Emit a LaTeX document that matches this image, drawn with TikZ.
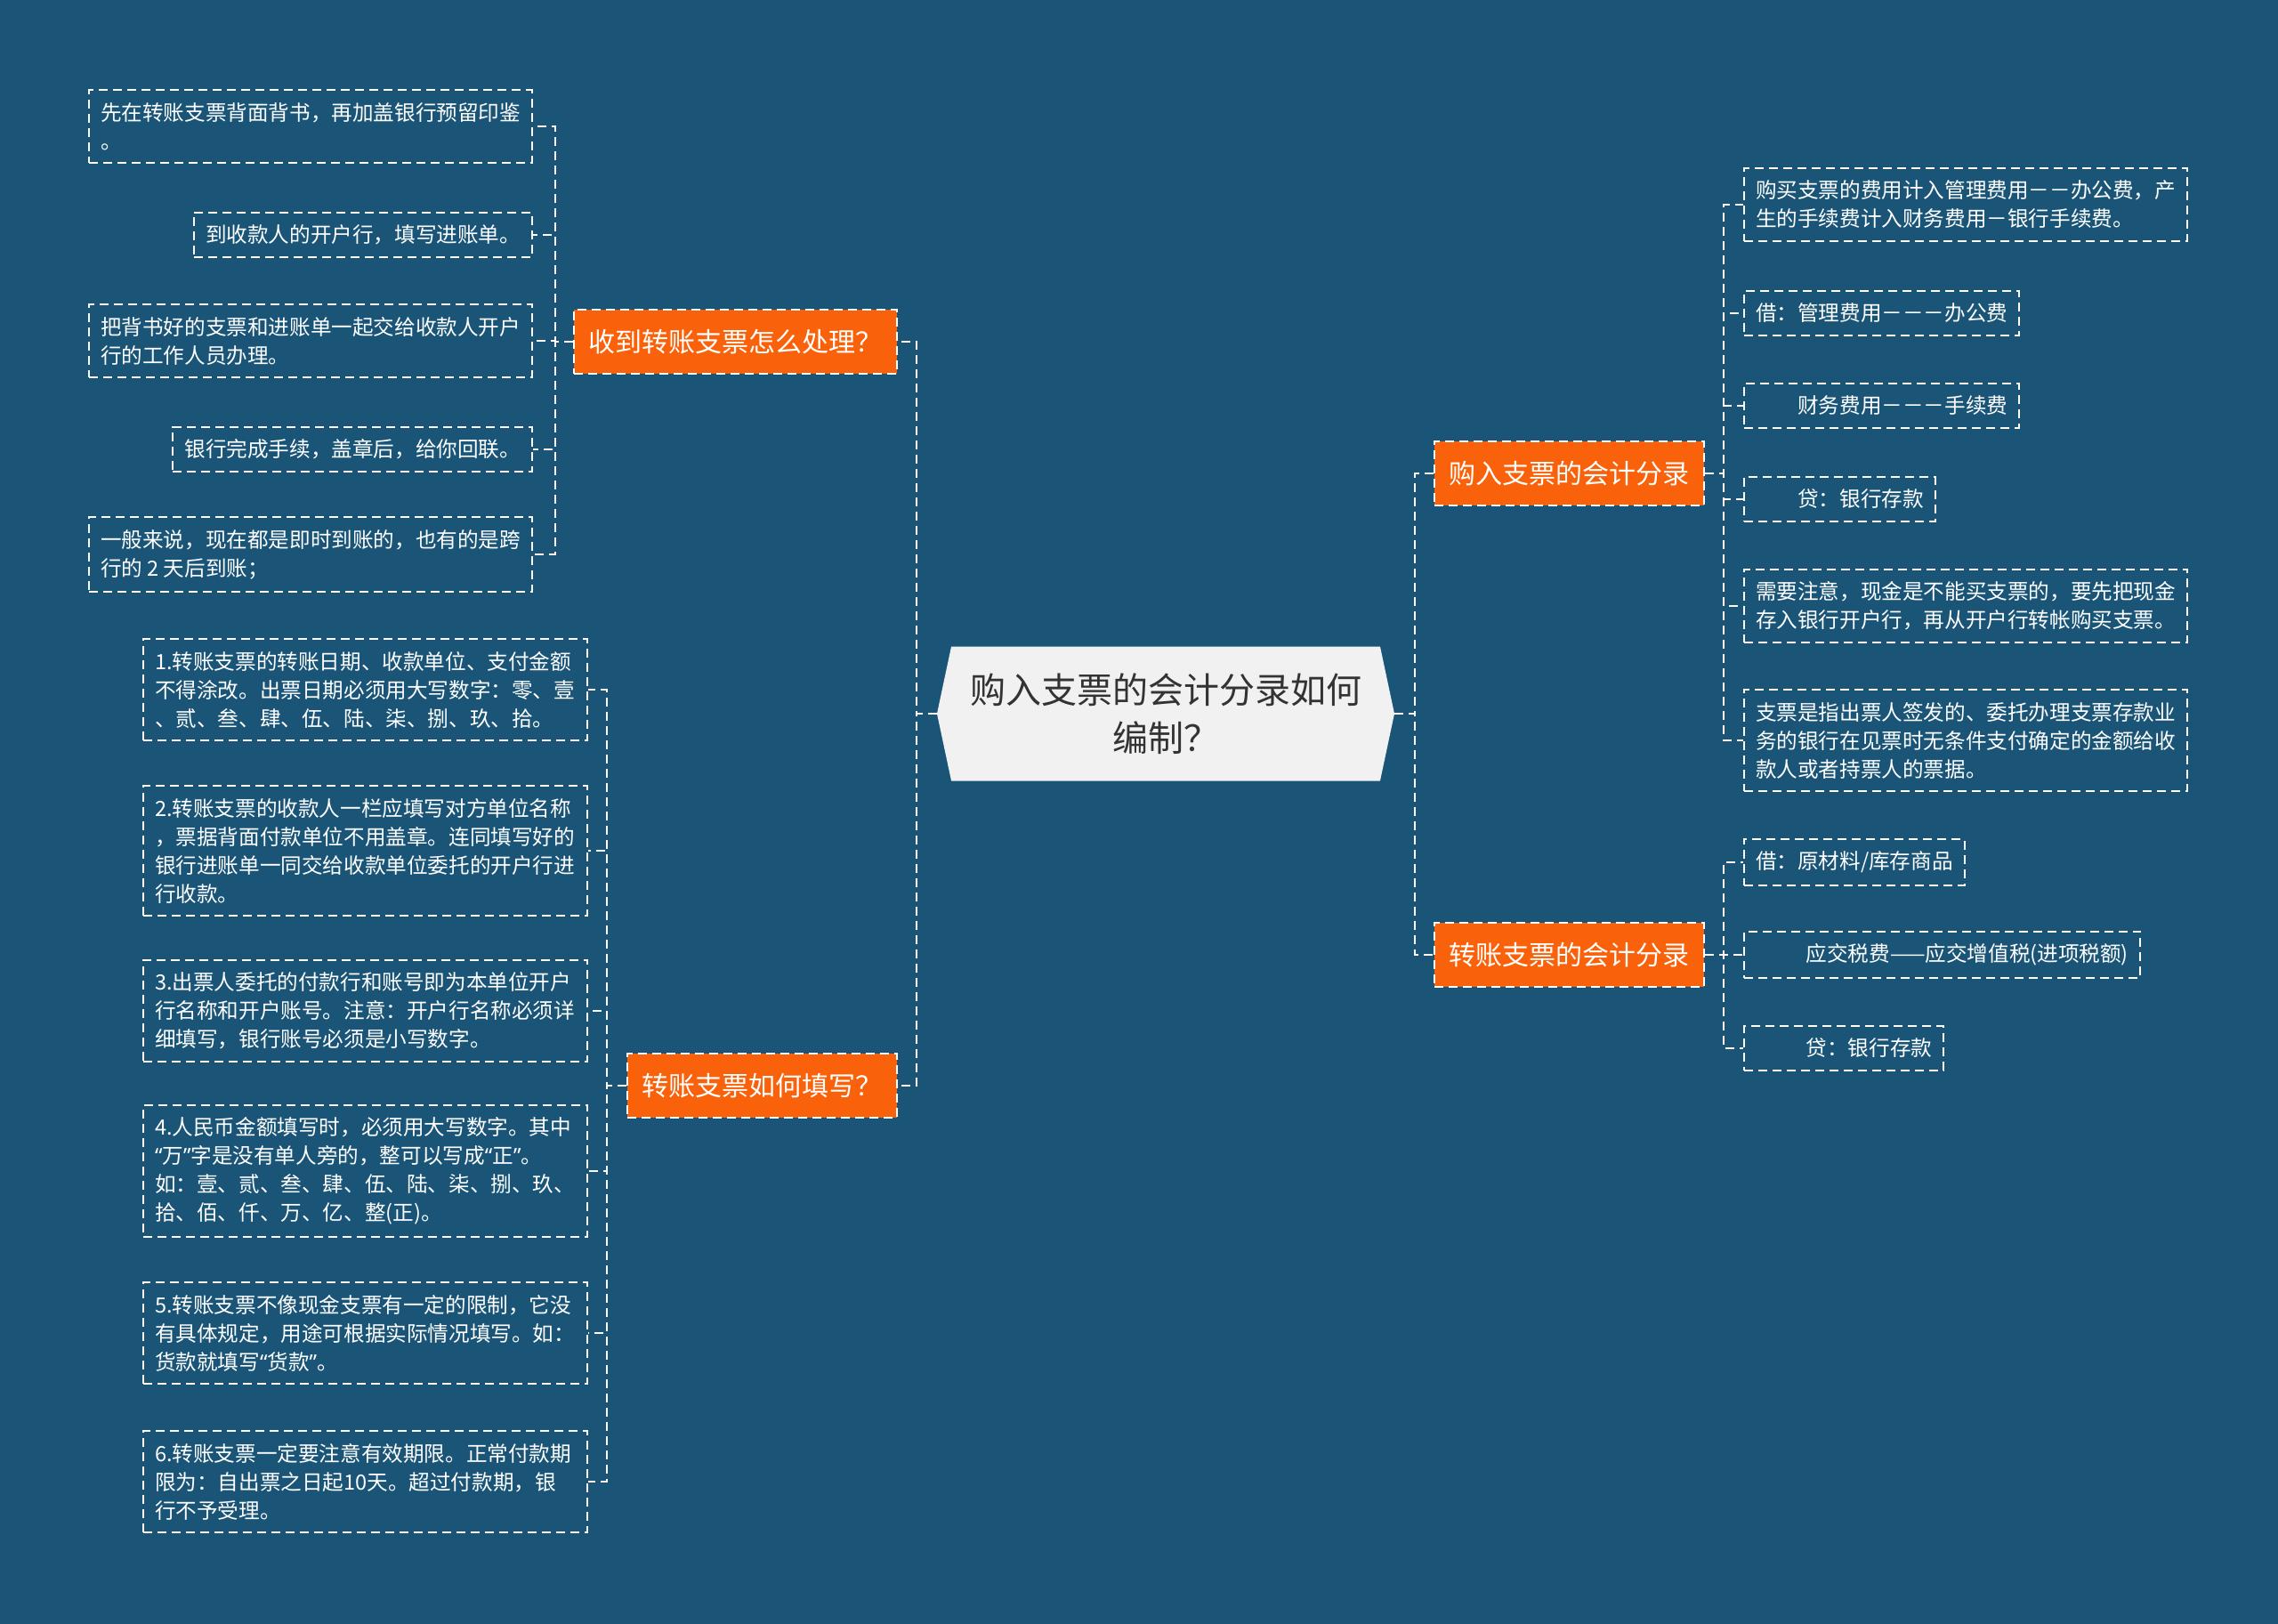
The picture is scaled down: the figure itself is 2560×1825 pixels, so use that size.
\documentclass[tikz,border=0pt]{standalone}
\usepackage{fontspec}
\setmainfont{Noto Sans CJK SC}
\newfontfamily\westfont{Noto Sans}
\usepackage{tikz}
\usetikzlibrary{shapes.symbols}
\usepackage{xcolor}
\definecolor{bgblue}{RGB}{26,85,120}
\definecolor{topicorange}{RGB}{249,98,10}
\definecolor{rootgray}{RGB}{241,241,241}
\definecolor{rootink}{RGB}{51,51,51}
\newcommand{\oq}{{\westfont “}}
\newcommand{\cq}{{\westfont ”}}
\tikzset{
  root/.style={
    signal, 
    signal to=west and east, 
    signal pointer angle=156,
    minimum width=257pt, 
    minimum height=75.5pt, 
    inner sep=0pt,
    align=center, 
    fill=rootgray, 
    text=rootink,
    font=\fontsize{20pt}{27pt}\selectfont
    },
  branch/.style={
    rectangle, 
    minimum height=36pt, 
    inner xsep=8.25pt,
    draw=white, 
    line width=1pt,
    dash pattern=on 5pt off 3pt,
    fill=topicorange, 
    text=white,
    font=\fontsize{15pt}{18pt}\selectfont
    },
  leaf/.style={
    rectangle, 
    inner xsep=6.5pt, 
    inner ysep=7pt,
    align=left, 
    draw=white, 
    line width=1pt,
    dash pattern=on 5pt off 3pt,
    text=white,
    font=\fontsize{11.8pt}{16pt}\selectfont
    },
}
\tikzstyle{link} = [draw=white, line width=1pt, dash pattern=on 5pt off 3pt]

\begin{document}
\begin{tikzpicture}[x=0.5pt,y=-0.5pt]
    \tikzstyle{left leaf}=[leaf, anchor=east]
    \tikzstyle{right leaf}=[leaf, anchor=west]
    \tikzstyle{wide leaf}=[left leaf, text width=236.5pt]

    % Background
    \fill[bgblue] (0,0) rectangle (2560,1825);
    \useasboundingbox (0,0) rectangle (2560,1825);

    % Central topic
    \node[root] (root) at (1310,802) {购入支票的会计分录如何\\编制？};

    % Main branches
    \node[branch, anchor=east] (recv) at (1009,384) {收到转账支票怎么处理？};
    \node[branch, anchor=east] (howfill) at (1009,1220) {转账支票如何填写？};
    \node[branch, anchor=west] (buy) at (1611,532) {购入支票的会计分录};
    \node[branch, anchor=west] (entry) at (1611,1073) {转账支票的会计分录};

    % Leaves of the first left branch
    \node[left leaf] (recv-1) at (599,142) {先在转账支票背面背书，再加盖银行预留印鉴\\。};
    \node[left leaf] (recv-2) at (599,264) {到收款人的开户行，填写进账单。};
    \node[left leaf] (recv-3) at (599,383) {把背书好的支票和进账单一起交给收款人开户\\行的工作人员办理。};
    \node[left leaf] (recv-4) at (599,505) {银行完成手续，盖章后，给你回联。};
    \node[left leaf] (recv-5) at (599,623) {一般来说，现在都是即时到账的，也有的是跨\\行的 2 天后到账；};

    % Leaves of the second left branch
    \node[wide leaf] (fill-1) at (661,775) {1.转账支票的转账日期、收款单位、支付金额\\不得涂改。出票日期必须用大写数字：零、壹\\、贰、叁、肆、伍、陆、柒、捌、玖、拾。};
    \node[wide leaf] (fill-2) at (661,956) {2.转账支票的收款人一栏应填写对方单位名称\\，票据背面付款单位不用盖章。连同填写好的\\银行进账单一同交给收款单位委托的开户行进\\行收款。};
    \node[wide leaf] (fill-3) at (661,1136) {3.出票人委托的付款行和账号即为本单位开户\\行名称和开户账号。注意：开户行名称必须详\\细填写，银行账号必须是小写数字。};
    \node[wide leaf] (fill-4) at (661,1316) {4.人民币金额填写时，必须用大写数字。其中\\\oq 万\cq 字是没有单人旁的，整可以写成\oq 正\cq 。\\如：壹、贰、叁、肆、伍、陆、柒、捌、玖、\\拾、佰、仟、万、亿、整(正)。};
    \node[wide leaf] (fill-5) at (661,1498) {5.转账支票不像现金支票有一定的限制，它没\\有具体规定，用途可根据实际情况填写。如：\\货款就填写\oq 货款\cq 。};
    \node[wide leaf] (fill-6) at (661,1665) {6.转账支票一定要注意有效期限。正常付款期\\限为：自出票之日起10天。超过付款期，银\\行不予受理。};

    % Leaves of the first right branch
    \node[right leaf] (buy-1) at (1959,230) {购买支票的费用计入管理费用－－办公费，产\\生的手续费计入财务费用－银行手续费。};
    \node[right leaf] (buy-2) at (1959,352) {借：管理费用－－－办公费};
    \node[right leaf] (buy-3) at (1959,456) {\hspace*{2em}财务费用－－－手续费};
    \node[right leaf] (buy-4) at (1959,561) {\hspace*{2em}贷：银行存款};
    \node[right leaf] (buy-5) at (1959,681) {需要注意，现金是不能买支票的，要先把现金\\存入银行开户行，再从开户行转帐购买支票。};
    \node[right leaf] (buy-6) at (1959,832) {支票是指出票人签发的、委托办理支票存款业\\务的银行在见票时无条件支付确定的金额给收\\款人或者持票人的票据。};

    % Leaves of the second right branch
    \node[right leaf] (entry-1) at (1959,969) {借：原材料/库存商品};
    \node[right leaf] (entry-2) at (1959,1073) {\hspace*{2.4em}应交税费——应交增值税(进项税额)};
    \node[right leaf] (entry-3) at (1959,1178) {\hspace*{2.4em}贷：银行存款};

    % Connect the central topic with the branches
    \draw[link] (root.west) -- ++(-23,0) |- (recv.east);
    \draw[link] (root.west) -- ++(-23,0) |- (howfill.east);
    \draw[link] (root.east) -- ++(23,0) |- (buy.west);
    \draw[link] (root.east) -- ++(23,0) |- (entry.west);

    % Connect every branch with its leaves
    \foreach \i in {1,...,5}
        \draw[link] (recv.west) -- ++(-20,0) |- (recv-\i.east);
    \foreach \i in {1,...,6}
        \draw[link] (howfill.west) -- ++(-22,0) |- (fill-\i.east);
    \foreach \i in {1,...,6}
        \draw[link] (buy.east) -- ++(21,0) |- (buy-\i.west);
    \foreach \i in {1,...,3}
        \draw[link] (entry.east) -- ++(21,0) |- (entry-\i.west);
\end{tikzpicture}
\end{document}
